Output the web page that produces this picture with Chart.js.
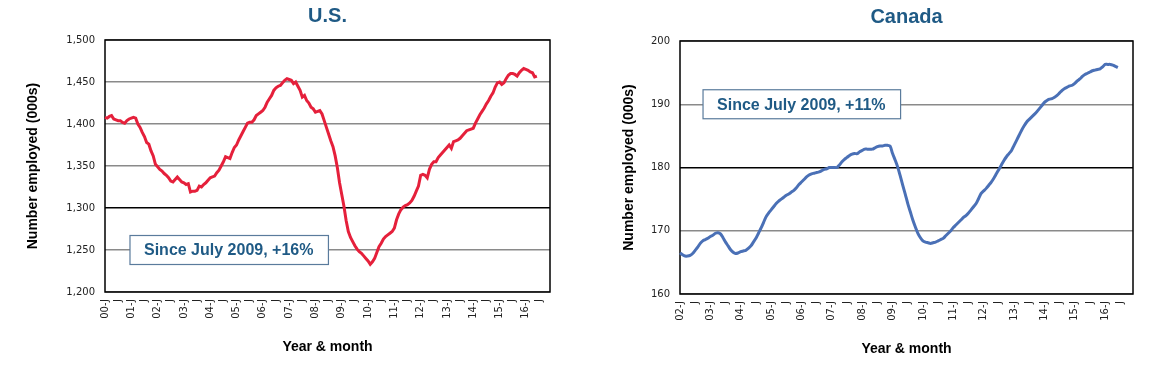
<!DOCTYPE html>
<html>
<head>
<meta charset="utf-8">
<script src="https://cdn.jsdelivr.net/npm/chart.js@4.4.1/dist/chart.umd.min.js"></script>
<style>
  html, body { margin: 0; padding: 0; background: #fff; }
  .panel { position: absolute; top: 0; width: 580px; height: 366px; }
  #usPanel { left: 0; }
  #caPanel { left: 580px; }
</style>
</head>
<body>
<div class="panel" id="usPanel"><canvas id="usChart"></canvas></div>
<div class="panel" id="caPanel"><canvas id="caChart"></canvas></div>
<script>
// monthly employment, thousands
const usStartYear = 2000;
const caStartYear = 2002;
const endYear = 2016;

const usValues = [
  1408, 1407, 1409, 1410, 1406, 1405, 1404, 1404, 1402, 1401, 1404, 1406, // 2000
  1407, 1408, 1407, 1400, 1396, 1390, 1385, 1378, 1376, 1368, 1362, 1352, // 2001
  1349, 1346, 1344, 1341, 1339, 1336, 1332, 1331, 1334, 1337, 1334, 1331, // 2002
  1330, 1328, 1329, 1319, 1320, 1320, 1321, 1326, 1325, 1328, 1330, 1333, // 2003
  1336, 1337, 1338, 1342, 1345, 1350, 1355, 1361, 1360, 1359, 1366, 1372, // 2004
  1375, 1381, 1386, 1391, 1396, 1401, 1402, 1402, 1405, 1410, 1412, 1414, // 2005
  1416, 1420, 1426, 1430, 1434, 1440, 1443, 1445, 1446, 1449, 1452, 1454, // 2006
  1453, 1452, 1448, 1450, 1445, 1440, 1432, 1434, 1428, 1425, 1420, 1418, // 2007
  1414, 1415, 1416, 1412, 1404, 1396, 1388, 1380, 1373, 1362, 1348, 1330, // 2008
  1316, 1302, 1285, 1272, 1265, 1260, 1255, 1251, 1248, 1246, 1243, 1240, // 2009
  1237, 1233, 1236, 1240, 1247, 1254, 1258, 1263, 1266, 1268, 1270, 1272, // 2010
  1276, 1286, 1293, 1298, 1301, 1303, 1304, 1306, 1309, 1314, 1320, 1326, // 2011
  1339, 1340, 1339, 1336, 1346, 1352, 1355, 1355, 1360, 1363, 1366, 1369, // 2012
  1372, 1375, 1371, 1379, 1380, 1381, 1383, 1386, 1389, 1392, 1393, 1394, // 2013
  1395, 1401, 1406, 1411, 1415, 1419, 1424, 1428, 1433, 1437, 1444, 1449, // 2014
  1450, 1447, 1449, 1454, 1458, 1460, 1460, 1459, 1457, 1461, 1464, 1466, // 2015
  1465, 1464, 1462, 1461, 1456, 1457                                      // 2016
];

const caValues = [
  166.5, 166.2, 166.0, 166.0, 166.1, 166.4, 166.9, 167.4, 168.0, 168.4, 168.6, 168.8, // 2002
  169.1, 169.3, 169.6, 169.7, 169.5, 168.9, 168.2, 167.6, 167.0, 166.6, 166.4, 166.5, // 2003
  166.7, 166.8, 166.9, 167.2, 167.6, 168.2, 168.8, 169.6, 170.4, 171.3, 172.2, 172.8, // 2004
  173.3, 173.8, 174.3, 174.7, 175.0, 175.3, 175.6, 175.8, 176.1, 176.4, 176.8, 177.3, // 2005
  177.7, 178.1, 178.5, 178.8, 179.0, 179.1, 179.2, 179.3, 179.5, 179.7, 179.8, 180.0, // 2006
  180.0, 180.0, 180.0, 180.4, 180.9, 181.3, 181.6, 181.9, 182.1, 182.2, 182.2, 182.5, // 2007
  182.7, 182.9, 182.9, 182.9, 182.9, 183.1, 183.3, 183.4, 183.4, 183.5, 183.5, 183.4, // 2008
  182.2, 181.2, 180.1, 178.7, 177.2, 175.8, 174.3, 173.0, 171.7, 170.6, 169.6, 168.9, // 2009
  168.4, 168.2, 168.1, 168.0, 168.1, 168.2, 168.4, 168.6, 168.8, 169.2, 169.6, 170.0, // 2010
  170.5, 170.9, 171.3, 171.7, 172.1, 172.4, 172.8, 173.3, 173.8, 174.3, 175.1, 175.9, // 2011
  176.3, 176.7, 177.2, 177.7, 178.3, 179.0, 179.7, 180.4, 181.1, 181.7, 182.2, 182.7, // 2012
  183.5, 184.3, 185.1, 185.9, 186.6, 187.2, 187.6, 188.0, 188.4, 188.8, 189.3, 189.8, // 2013
  190.3, 190.6, 190.8, 190.9, 191.1, 191.4, 191.8, 192.2, 192.5, 192.7, 192.9, 193.0, // 2014
  193.3, 193.7, 194.0, 194.4, 194.7, 194.9, 195.1, 195.3, 195.4, 195.5, 195.6, 195.9, // 2015
  196.3, 196.3, 196.3, 196.2, 196.0, 195.8                                            // 2016
];

const monthLetters = ['J', 'F', 'M', 'A', 'M', 'J', 'J', 'A', 'S', 'O', 'N', 'D'];

// one category per month, e.g. "00-J" for Jan 2000, "J" for the rest
function monthLabels(fromYear, toYear) {
  const out = [];
  for (let y = fromYear; y <= toYear; y++) {
    monthLetters.forEach((m, i) => {
      out.push(i === 0 ? String(y % 100).padStart(2, '0') + '-' + m : m);
    });
  }
  return out;
}

const usLabels = monthLabels(usStartYear, endYear);
const caLabels = monthLabels(caStartYear, endYear);

const textFont = '"Liberation Sans", Arial, sans-serif';
const tickFont = { family: '"DejaVu Sans", sans-serif', size: 10 };
const headingColor = '#1f5a85';

// frame, heading and the "Since July 2009" note
const extrasPlugin = {
    id: 'extras',
    beforeDatasetsDraw(chart) {
        const a = chart.chartArea;
        const ctx = chart.ctx;
        ctx.save();
        ctx.strokeStyle = '#000';
        ctx.lineWidth = 1.5;
        ctx.strokeRect(a.left, a.top, a.width, a.height);
        ctx.restore();
    },
    afterDatasetsDraw(chart, args, opts) {
        const a = chart.chartArea;
        const ctx = chart.ctx;
        ctx.save();
        ctx.fillStyle = headingColor;
        ctx.font = 'bold 20px ' + textFont;
        ctx.textAlign = 'center';
        ctx.textBaseline = 'middle';
        ctx.fillText(opts.heading, (a.left + a.right) / 2, opts.headingY);

        const x0 = chart.scales.x.getPixelForValue(opts.noteAt);
        const yc = chart.scales.y.getPixelForValue(opts.noteValue);
        ctx.font = 'bold 16px ' + textFont;
        const w = ctx.measureText(opts.note).width + 29;
        const h = 29;
        ctx.fillStyle = '#fff';
        ctx.fillRect(x0, yc - h / 2, w, h);
        ctx.strokeStyle = '#5a7b9c';
        ctx.lineWidth = 1.2;
        ctx.strokeRect(x0, yc - h / 2, w, h);
        ctx.fillStyle = headingColor;
        ctx.textAlign = 'left';
        ctx.fillText(opts.note, x0 + 14, yc + 1);
        ctx.restore();
    }
};

function makeChart(canvasId, labels, values, cfg) {
    return new Chart(document.getElementById(canvasId), {
        type: 'line',
        data: {
            labels: labels,
            datasets: [{
                data: values,
                borderColor: cfg.color,
                borderWidth: 3,
                pointRadius: 0,
                tension: cfg.tension,
                fill: false
            }]
        },
        options: {
            responsive: true,
            maintainAspectRatio: false,
            animation: false,
            layout: { padding: { left: 0, right: cfg.padRight, top: cfg.padTop, bottom: 0 } },
            plugins: {
                legend: { display: false },
                tooltip: { enabled: false },
                extras: {
                    heading: cfg.heading,
                    headingY: cfg.headingY,
                    note: cfg.note,
                    noteAt: cfg.noteAt,
                    noteValue: cfg.noteValue
                }
            },
            scales: {
                x: {
                    type: 'category',
                    offset: false,
                    grid: { display: false, drawTicks: false },
                    border: { display: false },
                    afterFit: (scale) => { scale.height = cfg.xHeight; },
                    ticks: {
                        autoSkip: false,
                        minRotation: 90,
                        maxRotation: 90,
                        padding: 7,
                        color: '#222',
                        font: tickFont,
                        callback: function(value, index) {
                            return (index % 6 === 0) ? this.getLabelForValue(value) : '';
                        }
                    },
                    title: {
                        display: true,
                        text: 'Year & month',
                        color: '#000',
                        font: { family: textFont, size: 14, weight: 'bold' },
                        padding: { top: 0, bottom: cfg.xTitlePad }
                    }
                },
                y: {
                    min: cfg.min,
                    max: cfg.max,
                    afterFit: (scale) => { scale.width = cfg.yWidth; },
                    grid: {
                        drawTicks: false,
                        lineWidth: 1.5,
                        color: (ctx) => cfg.darkLines.includes(ctx.tick.value) ? '#000' : '#8a8a8a'
                    },
                    border: { display: false },
                    ticks: {
                        stepSize: cfg.step,
                        padding: 10,
                        color: '#222',
                        font: tickFont
                    },
                    title: {
                        display: true,
                        text: 'Number employed (000s)',
                        color: '#000',
                        font: { family: textFont, size: 14, weight: 'bold' },
                        padding: { top: cfg.yTitlePad, bottom: 0 }
                    }
                }
            }
        },
        plugins: [extrasPlugin]
    });
}

makeChart('usChart', usLabels, usValues, {
    color: '#e5203b', tension: 0,
    heading: 'U.S.', headingY: 16,
    note: 'Since July 2009, +16%', noteAt: 11.4, noteValue: 1250,
    min: 1200, max: 1500, step: 50, darkLines: [1300],
    yWidth: 105, xHeight: 74, padRight: 30, padTop: 40,
    xTitlePad: 10, yTitlePad: 25
});

makeChart('caChart', caLabels, caValues, {
    color: '#4a70b6', tension: 0.3,
    heading: 'Canada', headingY: 17,
    note: 'Since July 2009, +11%', noteAt: 9.1, noteValue: 190,
    min: 160, max: 200, step: 10, darkLines: [180],
    yWidth: 100, xHeight: 72, padRight: 27, padTop: 41,
    xTitlePad: 8, yTitlePad: 41
});
</script>
</body>
</html>
